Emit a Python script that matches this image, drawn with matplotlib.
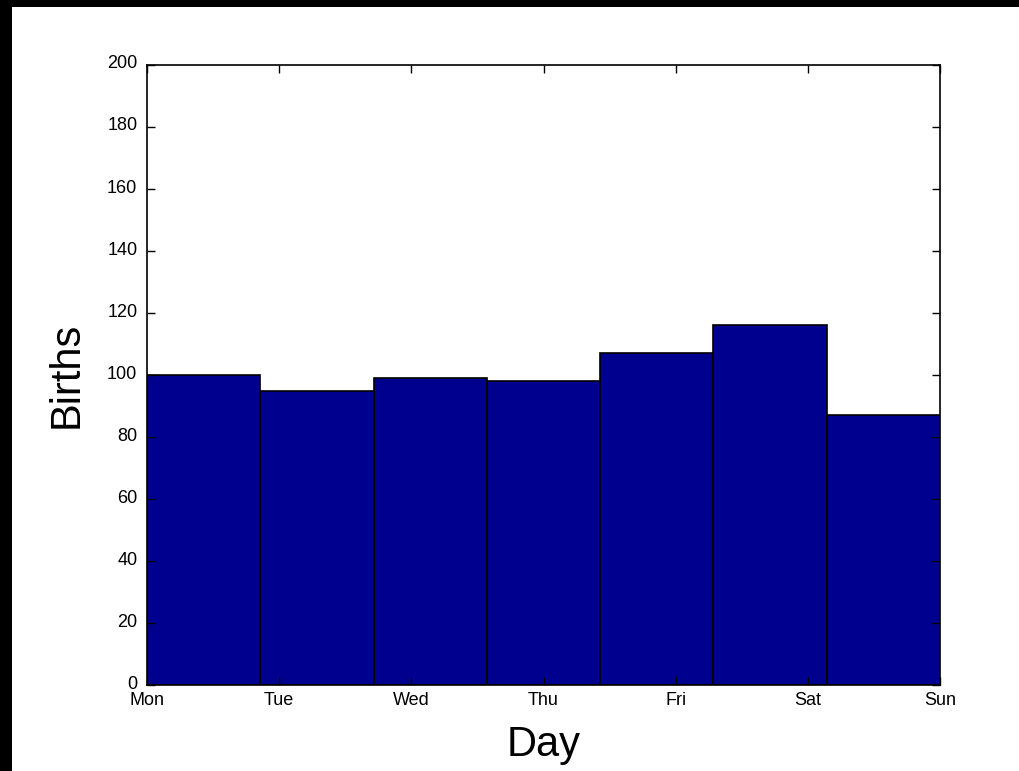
import matplotlib
matplotlib.use('Agg')
import matplotlib.pyplot as plt
import matplotlib.transforms as mtransforms
from matplotlib.patches import Rectangle
import numpy as np

# Births per weekday
days = ['Mon', 'Tue', 'Wed', 'Thu', 'Fri', 'Sat', 'Sun']
births = [100, 95, 99, 98, 107, 116, 87]

plt.rcParams['font.family'] = ['Liberation Sans', 'DejaVu Sans']

fig = plt.figure(figsize=(10.2, 7.71), dpi=100)
fig.patch.set_facecolor('white')
ax = fig.add_axes([0.1441, 0.1115, 0.7775, 0.8042])

# hist-style bins: 7 bins spread across ticks 1..7
n = len(days)
edges = np.linspace(1, n, n + 1)
width = edges[1] - edges[0]
ax.bar(edges[:-1], births, width=width, align='edge',
       color='#00008F', edgecolor='black', linewidth=1.2)

ax.set_xlim(1, n)
ax.set_ylim(0, 200)
ax.set_xticks(np.arange(1, n + 1))
ax.set_xticklabels(days)
ax.set_yticks(np.arange(0, 201, 20))

ax.tick_params(direction='in', length=5.5, width=1, top=True, right=True,
               labelsize=13)
ax.tick_params(axis='y', pad=7)
ax.tick_params(axis='x', pad=5)
for s in ax.spines.values():
    s.set_linewidth(1.2)

# lift the y tick labels a few pixels so "0" clears "Mon"
lift = mtransforms.ScaledTranslation(0, 3 / 100, fig.dpi_scale_trans)
for lbl in ax.get_yticklabels():
    lbl.set_transform(lbl.get_transform() + lift)

ax.set_xlabel('Day', fontsize=30)
ax.set_ylabel('Births', fontsize=30)
ax.xaxis.set_label_coords(0.5, -0.065)
ax.yaxis.set_label_coords(-0.076, 0.5)

# dark frame along the top and left edges
fig.add_artist(Rectangle((0, 1 - 7 / 771), 1, 7 / 771, transform=fig.transFigure,
                         facecolor='black', edgecolor='none'))
fig.add_artist(Rectangle((0, 0), 12 / 1020, 1, transform=fig.transFigure,
                         facecolor='black', edgecolor='none'))

fig.savefig('out.png', dpi=100)
